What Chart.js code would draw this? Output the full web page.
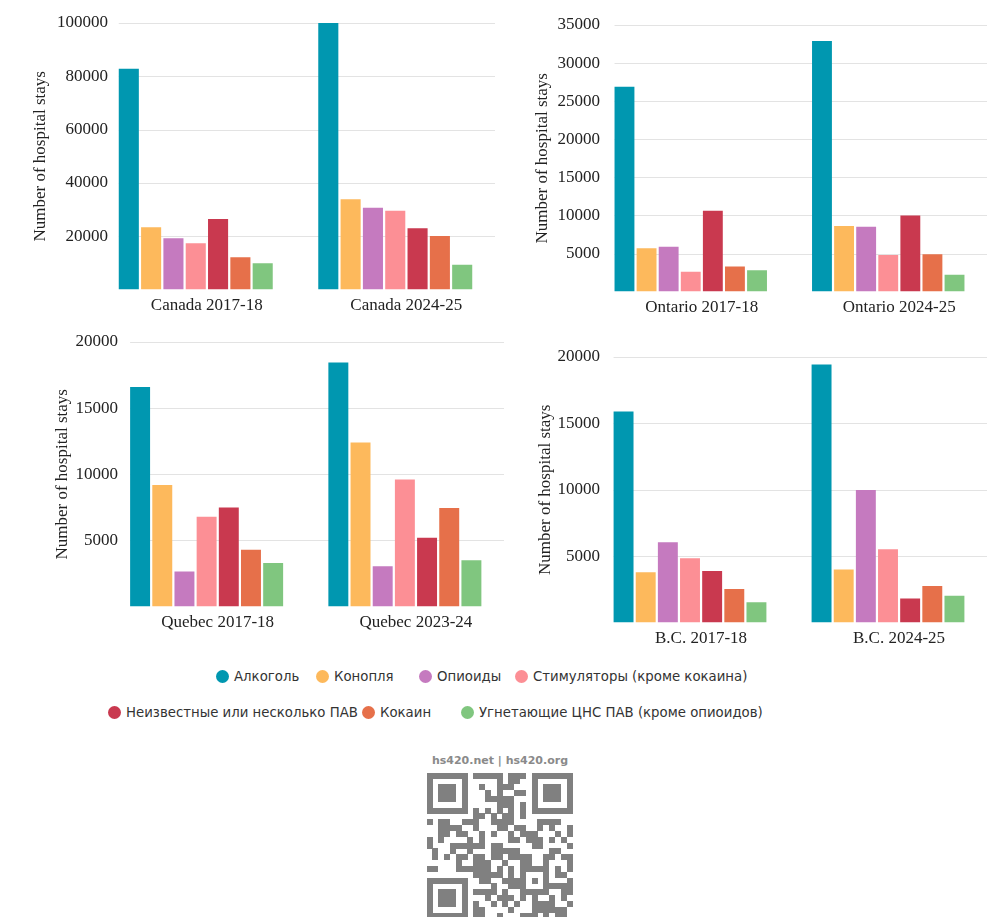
<!DOCTYPE html>
<html>
<head>
<meta charset="utf-8">
<script src="https://cdn.jsdelivr.net/npm/chart.js@4"></script>
<style>
    body { margin: 0; background: #fff; width: 1000px; height: 917px; position: relative; overflow: hidden; }
    .box { position: absolute; }
    .legend { position: absolute; left: 0; width: 1000px; font-family: "DejaVu Sans", sans-serif; font-size: 13.3px; color: #333; }
    .legend span.item { position: absolute; white-space: nowrap; line-height: 16px; }
    .legend i { display: inline-block; width: 13px; height: 13px; border-radius: 50%; vertical-align: -2px; margin-right: 5px; }
    #site { position: absolute; top: 754px; left: 0; width: 1000px; text-align: center; font-family: "DejaVu Sans", sans-serif; font-size: 11px; font-weight: bold; color: #8a8a8a; }
    #qr { position: absolute; left: 427px; top: 773px; }
</style>
</head>
<body>
<div class="box" style="left:30px;top:0px;width:469px;height:326px"><canvas id="c1"></canvas></div>
<div class="box" style="left:532px;top:0px;width:459px;height:328px"><canvas id="c2"></canvas></div>
<div class="box" style="left:52px;top:320px;width:456px;height:323px"><canvas id="c3"></canvas></div>
<div class="box" style="left:535px;top:330px;width:456px;height:329px"><canvas id="c4"></canvas></div>

<div class="legend" id="legend"></div>
<div id="site">hs420.net | hs420.org</div>
<canvas id="qr" width="146" height="146"></canvas>

<script>
// substances (series)
const substances = ['Алкоголь', 'Конопля', 'Опиоиды', 'Стимуляторы (кроме кокаина)',
    'Неизвестные или несколько ПАВ', 'Кокаин', 'Угнетающие ЦНС ПАВ (кроме опиоидов)'];
const colors = ['#0097b0', '#fdb95c', '#c57abf', '#fc8f95', '#c9394f', '#e6704a', '#80c67f'];

// categories per panel
const canadaLabels = ['Canada 2017-18', 'Canada 2024-25'];
const ontarioLabels = ['Ontario 2017-18', 'Ontario 2024-25'];
const quebecLabels = ['Quebec 2017-18', 'Quebec 2023-24'];
const bcLabels = ['B.C. 2017-18', 'B.C. 2024-25'];

// values: one row per substance, [first period, second period]
const canadaValues = [[82800, 100000], [23400, 33900], [19300, 30700], [17400, 29600], [26500, 23000], [12100, 20100], [9900, 9300]];
const ontarioValues = [[26900, 32900], [5700, 8600], [5900, 8500], [2600, 4800], [10600, 10000], [3300, 4900], [2800, 2200]];
const quebecValues = [[16600, 18450], [9200, 12400], [2650, 3050], [6800, 9600], [7500, 5200], [4300, 7450], [3300, 3500]];
const bcValues = [[15900, 19430], [3800, 4000], [6050, 9980], [4850, 5520], [3880, 1810], [2530, 2760], [1540, 2030]];

// y axis ranges
const canadaMax = 100000, canadaStep = 20000;
const ontarioMax = 35000, ontarioStep = 5000;
const quebecMax = 20000, quebecStep = 5000;
const bcMax = 20000, bcStep = 5000;

const serif = '"Liberation Serif", "DejaVu Serif", serif';
const fontSize = 17;

// width of the widest tick label, used to right-align the mirrored ticks
function labelWidth(text) {
    const c = document.createElement('canvas').getContext('2d');
    c.font = `${fontSize}px ${serif}`;
    return c.measureText(text).width;
}

// grid lines start at the first bar, not at the chart area edge
const gridFromBars = {
    id: 'gridFromBars',
    beforeDatasetsDraw(chart) {
        const y = chart.scales.y;
        const first = chart.getDatasetMeta(0).data[0];
        const x0 = first.x - first.width / 2;
        const ctx = chart.ctx;
        ctx.save();
        ctx.strokeStyle = '#e3e3e3';
        ctx.lineWidth = 1;
        y.ticks.forEach(t => {
            if (t.value === 0) return;
            const py = Math.round(y.getPixelForValue(t.value)) + 0.5;
            ctx.beginPath();
            ctx.moveTo(x0, py);
            ctx.lineTo(chart.chartArea.right, py);
            ctx.stroke();
        });
        ctx.restore();
    }
};

function makeChart(id, labels, values, max, step, opts) {
    const datasets = substances.map((name, i) => ({
        label: name,
        data: values[i],
        backgroundColor: colors[i],
        borderWidth: 0,
        barPercentage: 0.9,
        categoryPercentage: 0.783
    }));
    return new Chart(document.getElementById(id), {
        type: 'bar',
        data: { labels, datasets },
        plugins: [gridFromBars],
        options: {
            responsive: true,
            maintainAspectRatio: false,
            animation: false,
            layout: { padding: { top: opts.top, right: 4, bottom: 4, left: 0 } },
            plugins: { legend: { display: false }, tooltip: { enabled: false } },
            scales: {
                x: {
                    grid: { display: false, drawTicks: false },
                    border: { display: false },
                    ticks: { color: '#222', padding: 6, labelOffset: 11, font: { family: serif, size: fontSize } }
                },
                y: {
                    min: 0,
                    max: max,
                    afterFit: s => { s.width = opts.axisW; },
                    grid: { display: false, drawTicks: false },
                    border: { display: false },
                    ticks: {
                        stepSize: step,
                        mirror: true,
                        crossAlign: 'far',
                        padding: opts.labelRight - labelWidth(String(max)),
                        color: '#222',
                        font: { family: serif, size: fontSize },
                        callback: v => v === 0 ? '' : String(v)
                    },
                    title: {
                        display: true,
                        text: 'Number of hospital stays',
                        color: '#222',
                        padding: 0,
                        font: { family: serif, size: fontSize }
                    }
                }
            }
        }
    });
}

makeChart('c1', canadaLabels, canadaValues, canadaMax, canadaStep, { top: 23, axisW: 66, labelRight: 12 });
makeChart('c2', ontarioLabels, ontarioValues, ontarioMax, ontarioStep, { top: 25, axisW: 60, labelRight: 8 });
makeChart('c3', quebecLabels, quebecValues, quebecMax, quebecStep, { top: 22, axisW: 55.5, labelRight: 10.5 });
makeChart('c4', bcLabels, bcValues, bcMax, bcStep, { top: 27, axisW: 56, labelRight: 9 });

// legend, two rows as in the original
const legendRows = [
    { y: 669, items: [[0, 216], [1, 316], [2, 419], [3, 515]] },
    { y: 705, items: [[4, 108], [5, 362], [6, 461]] }
];
const legend = document.getElementById('legend');
legendRows.forEach(row => {
    row.items.forEach(([i, x]) => {
        const s = document.createElement('span');
        s.className = 'item';
        s.style.left = x + 'px';
        s.style.top = row.y + 'px';
        s.innerHTML = `<i style="background:${colors[i]}"></i>${substances[i]}`;
        legend.appendChild(s);
    });
});

// QR-like mark (decorative)
(function drawQr() {
    const n = 25, m = 146 / n;
    const q = document.getElementById('qr').getContext('2d');
    q.fillStyle = '#808080';
    const grid = [];
    let seed = 420;
    for (let r = 0; r < n; r++) {
        grid.push([]);
        for (let c = 0; c < n; c++) {
            seed = (seed * 1103515245 + 12345) & 0x7fffffff;
            grid[r].push(((seed >> 16) & 1) === 1);
        }
    }
    const finder = (r0, c0) => {
        for (let r = -1; r < 8; r++) for (let c = -1; c < 8; c++) {
            const rr = r0 + r, cc = c0 + c;
            if (rr < 0 || cc < 0 || rr >= n || cc >= n) continue;
            const edge = r === 0 || r === 6 || c === 0 || c === 6;
            const core = r >= 2 && r <= 4 && c >= 2 && c <= 4;
            grid[rr][cc] = r >= 0 && r <= 6 && c >= 0 && c <= 6 && (edge || core);
        }
    };
    finder(0, 0); finder(0, n - 7); finder(n - 7, 0);
    for (let r = 16; r <= 20; r++) for (let c = 16; c <= 20; c++) {
        grid[r][c] = r === 16 || r === 20 || c === 16 || c === 20 || (r === 18 && c === 18);
    }
    for (let k = 8; k < n - 8; k++) { grid[6][k] = k % 2 === 0; grid[k][6] = k % 2 === 0; }
    for (let r = 0; r < n; r++) for (let c = 0; c < n; c++) {
        if (grid[r][c]) q.fillRect(Math.floor(c * m), Math.floor(r * m), Math.ceil(m), Math.ceil(m));
    }
})();
</script>
</body>
</html>
